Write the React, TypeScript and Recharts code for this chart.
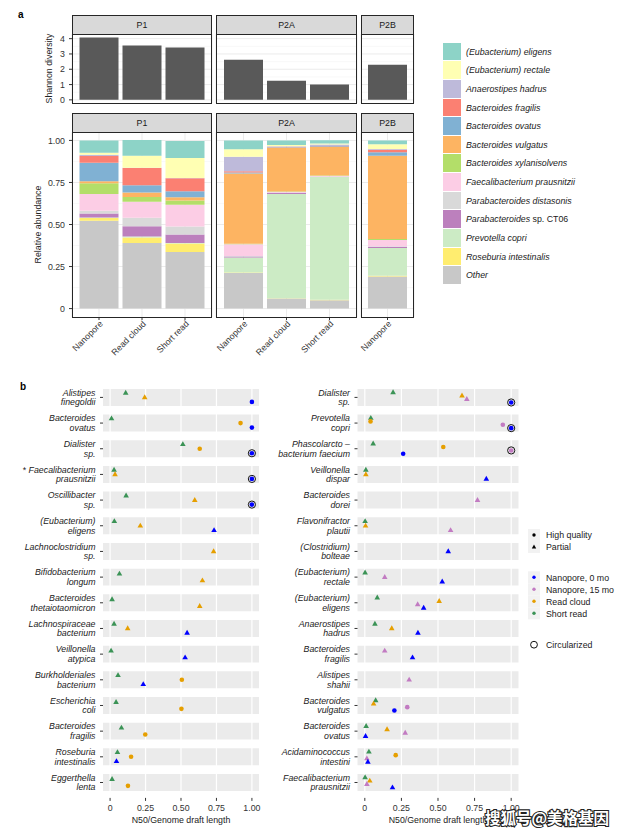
import React from "react";
import {
  Bar,
  BarChart,
  CartesianGrid,
  Label,
  ReferenceArea,
  ReferenceLine,
  Scatter,
  ScatterChart,
  XAxis,
  YAxis,
} from "recharts";

const FONT = '"Liberation Sans", Arial, Helvetica, sans-serif';
const TXT = "#333333";

// ---------- panel a ----------
const facets = ["P1", "P1", "P1", "P2A", "P2A", "P2A", "P2B"];
const methods = ["Nanopore", "Read cloud", "Short read", "Nanopore", "Read cloud", "Short read", "Nanopore"];
const shannon = [4.08, 3.55, 3.42, 2.63, 1.25, 1.0, 2.3];

const eligens = [0.073, 0.093, 0.1, 0.053, 0.028, 0.02, 0.022];
const rectale = [0.012, 0.071, 0.119, 0.044, 0.006, 0.006, 0.028];
const hadrus = [0.008, 0.002, 0.002, 0.086, 0.004, 0.008, 0.004];
const fragilis = [0.04, 0.102, 0.078, 0.008, 0.002, 0.002, 0.016];
const ovatus = [0.11, 0.044, 0.035, 0.006, 0.004, 0.004, 0.02];
const vulgatus = [0.012, 0.027, 0.02, 0.417, 0.26, 0.17, 0.495];
const xylanisolvens = [0.063, 0.028, 0.024, 0.003, 0.003, 0.003, 0.006];
const prausnitzii = [0.1, 0.095, 0.13, 0.071, 0.002, 0.002, 0.037];
const distasonis = [0.016, 0.051, 0.047, 0.002, 0.002, 0.002, 0.004];
const ct06 = [0.024, 0.061, 0.051, 0.006, 0.007, 0.002, 0.006];
const copri = [0.004, 0.006, 0.003, 0.09, 0.62, 0.73, 0.166];
const roseburia = [0.016, 0.032, 0.05, 0.003, 0.002, 0.002, 0.004];
const other = [0.522, 0.39, 0.337, 0.211, 0.06, 0.05, 0.191];

const taxaKeys = ["eligens", "rectale", "hadrus", "fragilis", "ovatus", "vulgatus", "xylanisolvens", "prausnitzii", "distasonis", "ct06", "copri", "roseburia", "other"];
const taxaValues = [eligens, rectale, hadrus, fragilis, ovatus, vulgatus, xylanisolvens, prausnitzii, distasonis, ct06, copri, roseburia, other];
const taxaLabels: [string, string][] = [
  ["(Eubacterium) eligens", ""],
  ["(Eubacterium) rectale", ""],
  ["Anaerostipes hadrus", ""],
  ["Bacteroides fragilis", ""],
  ["Bacteroides ovatus", ""],
  ["Bacteroides vulgatus", ""],
  ["Bacteroides xylanisolvens", ""],
  ["Faecalibacterium prausnitzii", ""],
  ["Parabacteroides distasonis", ""],
  ["Parabacteroides", " sp. CT06"],
  ["Prevotella copri", ""],
  ["Roseburia intestinalis", ""],
  ["Other", ""],
];
const taxaColors = ["#8DD3C7", "#FFFFB3", "#BEBADA", "#FB8072", "#80B1D3", "#FDB462", "#B3DE69", "#FCCDE5", "#D9D9D9", "#BC80BD", "#CCEBC5", "#FFED6F", "#C8C8C8"];

const facetNames = ["P1", "P2A", "P2B"];
const facetLeft = [72, 216, 361];
const facetWidth = [140, 141, 53];

function facetRows(f: string) {
  const rows: any[] = [];
  facets.forEach((name, i) => {
    if (name !== f) return;
    const row: any = { method: methods[i], shannon: shannon[i] };
    taxaKeys.forEach((k, j) => (row[k] = taxaValues[j][i]));
    rows.push(row);
  });
  return rows;
}

// ---------- panel b ----------
const leftSpecies: [string, string][] = [
  ["Alistipes", "finegoldii"],
  ["Bacteroides", "ovatus"],
  ["Dialister", "sp."],
  ["*Faecalibacterium", "prausnitzii"],
  ["Oscillibacter", "sp."],
  ["(Eubacterium)", "eligens"],
  ["Lachnoclostridium", "sp."],
  ["Bifidobacterium", "longum"],
  ["Bacteroides", "thetaiotaomicron"],
  ["Lachnospiraceae", "bacterium"],
  ["Veillonella", "atypica"],
  ["Burkholderiales", "bacterium"],
  ["Escherichia", "coli"],
  ["Bacteroides", "fragilis"],
  ["Roseburia", "intestinalis"],
  ["Eggerthella", "lenta"],
];
// [row, N50/genome length, quality]
type Pt = [number, number, string];
const leftShortRead: Pt[] = [[1, 0.11, "P"], [2, 0.01, "P"], [3, 0.513, "P"], [4, 0.028, "P"], [5, 0.113, "P"], [6, 0.03, "P"], [8, 0.066, "P"], [9, 0.014, "P"], [10, 0.028, "P"], [11, 0.007, "P"], [12, 0.056, "P"], [13, 0.042, "P"], [14, 0.08, "P"], [15, 0.052, "P"], [16, 0.014, "P"]];
const leftReadCloud: Pt[] = [[1, 0.244, "P"], [2, 0.92, "HQ"], [3, 0.632, "HQ"], [4, 0.035, "P"], [5, 0.597, "P"], [6, 0.213, "P"], [7, 0.73, "P"], [8, 0.651, "P"], [9, 0.632, "P"], [10, 0.124, "P"], [12, 0.506, "HQ"], [13, 0.503, "HQ"], [14, 0.248, "HQ"], [15, 0.148, "HQ"], [16, 0.126, "HQ"]];
const leftNano0: Pt[] = [[1, 1.0, "HQ"], [2, 1.0, "HQ"], [3, 1.0, "HQ"], [4, 1.0, "HQ"], [5, 1.0, "HQ"], [6, 0.733, "P"], [10, 0.543, "P"], [11, 0.529, "P"], [12, 0.234, "P"], [15, 0.045, "P"]];
const leftCircular: [number, string][] = [[3, "n0"], [4, "n0"], [5, "n0"]];

const rightSpecies: [string, string][] = [
  ["Dialister", "sp."],
  ["Prevotella", "copri"],
  ["Phascolarcto –", "bacterium faecium"],
  ["Veillonella", "dispar"],
  ["Bacteroides", "dorei"],
  ["Flavonifractor", "plautii"],
  ["(Clostridium)", "bolteae"],
  ["(Eubacterium)", "rectale"],
  ["(Eubacterium)", "eligens"],
  ["Anaerostipes", "hadrus"],
  ["Bacteroides", "fragilis"],
  ["Alistipes", "shahii"],
  ["Bacteroides", "vulgatus"],
  ["Bacteroides", "ovatus"],
  ["Acidaminococcus", "intestini"],
  ["Faecalibacterium", "prausnitzii"],
];
const rightShortRead: Pt[] = [[1, 0.193, "P"], [2, 0.041, "P"], [3, 0.057, "P"], [4, 0.007, "P"], [6, 0.002, "P"], [8, 0.002, "P"], [9, 0.085, "P"], [10, 0.069, "P"], [13, 0.074, "P"], [14, 0.009, "P"], [15, 0.028, "P"], [16, 0.002, "P"]];
const rightReadCloud: Pt[] = [[1, 0.664, "P"], [2, 0.039, "HQ"], [3, 0.536, "HQ"], [4, 0.007, "P"], [6, 0.005, "P"], [9, 0.508, "P"], [10, 0.184, "P"], [13, 0.06, "P"], [14, 0.152, "P"], [15, 0.211, "HQ"], [16, 0.034, "P"]];
const rightNano15: Pt[] = [[1, 0.697, "P"], [2, 0.943, "HQ"], [3, 1.0, "HQ"], [5, 0.77, "P"], [6, 0.586, "P"], [8, 0.136, "P"], [9, 0.361, "P"], [11, 0.136, "P"], [12, 0.303, "P"], [13, 0.29, "HQ"], [14, 0.276, "P"], [15, 0.014, "P"], [16, 0.014, "P"]];
const rightNano0: Pt[] = [[1, 1.0, "HQ"], [2, 1.0, "HQ"], [3, 0.262, "HQ"], [4, 0.83, "P"], [7, 0.57, "P"], [8, 0.529, "P"], [9, 0.402, "P"], [10, 0.363, "P"], [11, 0.326, "P"], [13, 0.202, "HQ"], [14, 0.005, "P"], [15, 0.021, "P"], [16, 0.189, "P"]];
const rightCircular: [number, string][] = [[1, "n0"], [2, "n0"], [3, "n15"]];

const techKeys = ["sr", "rc", "n15", "n0"];
const techLabels = ["Short read", "Read cloud", "Nanopore, 15 mo", "Nanopore, 0 mo"];
const techColors = ["#3B9356", "#E69F00", "#C27BC2", "#0000FF"];

const xTicks = [0, 0.25, 0.5, 0.75, 1];
const DODGE = 0.526; // dodge width in row units

function dodge(series: Record<string, Pt[]>, nRows: number) {
  const out: Record<string, any[]> = {};
  techKeys.forEach((k) => (out[k] = []));
  for (let r = 1; r <= nRows; r++) {
    const present = techKeys.filter((k) => series[k] && series[k].some((p) => p[0] === r));
    present.forEach((k, i) => {
      const p = series[k].find((q) => q[0] === r)!;
      out[k].push({ row: r, x: p[1], q: p[2], y: r + DODGE * ((i + 0.5) / present.length - 0.5) });
    });
  }
  return out;
}

// ---------- small renderers ----------
function AngledTick(props: any) {
  const { x, y, payload } = props;
  return (
    <text x={x} y={y} dy="0.71em" transform={`rotate(-45 ${x} ${y})`} textAnchor="end" fontSize={8.8} fill={TXT} fontFamily={FONT}>
      {payload.value}
    </text>
  );
}

function NameTick(props: any) {
  const { x, y, payload, names } = props;
  const [a, b] = names[payload.value - 1];
  const star = a.startsWith("*");
  return (
    <g>
      <text x={x} y={y - 1.8} textAnchor="end" fontSize={8.8} fontStyle="italic" fill="#222" fontFamily={FONT}>
        {star && <tspan fontStyle="normal">* </tspan>}
        {star ? a.slice(1) : a}
      </text>
      <text x={x} y={y + 7.8} textAnchor="end" fontSize={8.8} fontStyle="italic" fill="#222" fontFamily={FONT}>
        {b}
      </text>
    </g>
  );
}

function Marker(props: any) {
  const { cx, cy, payload, color } = props;
  if (cx == null || cy == null) return null;
  if (payload.q === "HQ") return <circle cx={cx} cy={cy} r={2.3} fill={color} />;
  return <path d={`M${cx},${cy - 3.1} L${cx + 2.8},${cy + 1.8} L${cx - 2.8},${cy + 1.8} Z`} fill={color} />;
}

function Ring(props: any) {
  const { cx, cy } = props;
  if (cx == null || cy == null) return null;
  return <circle cx={cx} cy={cy} r={3.6} fill="none" stroke="#111" strokeWidth={1} />;
}

const fmt2 = (v: number) => (v === 0 ? "0" : v.toFixed(2));

// ---------- panels ----------
function ShannonFacet({ idx }: { idx: number }) {
  const f = facetNames[idx];
  const first = idx === 0;
  const w = facetWidth[idx];
  const pad = (w - 43 * facetRows(f).length) / 2;
  return (
    <div style={{ position: "absolute", left: first ? 0 : facetLeft[idx], top: 34 }}>
      <BarChart width={first ? facetLeft[idx] + w : w} height={75} data={facetRows(f)} margin={{ top: 0, right: 0, bottom: 0, left: 0 }} barSize={39}>
        <CartesianGrid vertical={false} horizontalValues={[0.5, 1.5, 2.5, 3.5]} stroke="#F3F3F3" strokeWidth={0.6} />
        <CartesianGrid horizontalValues={[0, 1, 2, 3, 4]} stroke="#EBEBEB" />
        <XAxis dataKey="method" height={6} tick={false} tickSize={3} tickLine={{ stroke: TXT }} axisLine={false} padding={{ left: pad, right: pad }} />
        <YAxis
          type="number"
          domain={[-0.205, 4.305]}
          ticks={[0, 1, 2, 3, 4]}
          interval={0}
          allowDataOverflow
          hide={!first}
          width={facetLeft[0]}
          tickSize={3}
          tickMargin={4}
          axisLine={false}
          tickLine={{ stroke: TXT }}
          tick={{ fontSize: 8.8, fill: TXT }}
        >
          <Label value="Shannon diversity" angle={-90} position="insideLeft" offset={49} style={{ textAnchor: "middle", fontSize: 8.8, fill: "#222" }} />
        </YAxis>
        <Bar dataKey="shannon" fill="#595959" isAnimationActive={false} />
      </BarChart>
    </div>
  );
}

function StackFacet({ idx }: { idx: number }) {
  const f = facetNames[idx];
  const first = idx === 0;
  const w = facetWidth[idx];
  const rows = facetRows(f);
  const pad = (w - 43 * rows.length) / 2;
  return (
    <div style={{ position: "absolute", left: first ? 0 : facetLeft[idx], top: 132 }}>
      <BarChart width={first ? facetLeft[idx] + w : w} height={240} data={rows} margin={{ top: 0, right: 0, bottom: 0, left: 0 }} barSize={39}>
        <CartesianGrid vertical={false} horizontalValues={[0.125, 0.375, 0.625, 0.875]} stroke="#F3F3F3" strokeWidth={0.6} />
        <CartesianGrid horizontalValues={[0, 0.25, 0.5, 0.75, 1]} stroke="#EBEBEB" />
        <XAxis dataKey="method" height={55} interval={0} tick={<AngledTick />} tickSize={3} tickMargin={0} tickLine={{ stroke: TXT }} axisLine={false} padding={{ left: pad, right: pad }} />
        <YAxis
          type="number"
          domain={[-0.05, 1.05]}
          ticks={[0, 0.25, 0.5, 0.75, 1]}
          interval={0}
          tickFormatter={fmt2}
          allowDataOverflow
          hide={!first}
          width={facetLeft[0]}
          tickSize={3}
          tickMargin={4}
          axisLine={false}
          tickLine={{ stroke: TXT }}
          tick={{ fontSize: 8.8, fill: TXT }}
        >
          <Label value="Relative abundance" angle={-90} position="insideLeft" offset={38} style={{ textAnchor: "middle", fontSize: 8.8, fill: "#222" }} />
        </YAxis>
        {[...taxaKeys].reverse().map((k) => (
          <Bar key={k} dataKey={k} stackId="a" fill={taxaColors[taxaKeys.indexOf(k)]} isAnimationActive={false} />
        ))}
      </BarChart>
    </div>
  );
}

function Strip({ idx, top }: { idx: number; top: number }) {
  return (
    <div
      style={{
        position: "absolute",
        left: facetLeft[idx],
        top,
        width: facetWidth[idx],
        height: 20,
        boxSizing: "border-box",
        border: "1px solid #262626",
        background: "#D9D9D9",
        fontSize: 8.8,
        lineHeight: "18px",
        textAlign: "center",
        color: "#1a1a1a",
      }}
    >
      {facetNames[idx]}
    </div>
  );
}

function Frame({ idx, top, height }: { idx: number; top: number; height: number }) {
  return (
    <div
      style={{
        position: "absolute",
        left: facetLeft[idx],
        top,
        width: facetWidth[idx],
        height,
        boxSizing: "border-box",
        border: "1px solid #262626",
        pointerEvents: "none",
      }}
    />
  );
}

function LengthPanel({ left, yWidth, width, names, series, circular }: any) {
  const pts = dodge(series, names.length);
  const rowsIdx = names.map((_: any, i: number) => i + 1);
  const ringPts = circular.map(([r, k]: [number, string]) => pts[k].find((p: any) => p.row === r));
  return (
    <div style={{ position: "absolute", left, top: 381.6 }}>
      <ScatterChart width={width} height={445.9} margin={{ top: 0, right: 0, bottom: 0, left: 0 }}>
        <XAxis
          type="number"
          dataKey="x"
          domain={[-0.05, 1.05]}
          ticks={xTicks}
          interval={0}
          tickFormatter={fmt2}
          allowDataOverflow
          height={30}
          tickSize={3}
          tickMargin={3.5}
          axisLine={false}
          tickLine={{ stroke: TXT }}
          tick={{ fontSize: 8.8, fill: TXT }}
        >
          <Label value="N50/Genome draft length" position="insideBottom" offset={4.5} style={{ fontSize: 8.8, fill: "#222" }} />
        </XAxis>
        <YAxis
          type="number"
          dataKey="y"
          domain={[0.4, names.length + 0.6]}
          ticks={rowsIdx}
          interval={0}
          reversed
          allowDataOverflow
          width={yWidth}
          tickSize={3}
          tickMargin={4.5}
          axisLine={false}
          tickLine={{ stroke: TXT }}
          tick={(p: any) => <NameTick {...p} names={names} />}
        />
        {rowsIdx.map((r: number) => (
          <ReferenceArea key={"ra" + r} x1={-0.05} x2={1.05} y1={r - 0.33} y2={r + 0.33} fill="#EBEBEB" fillOpacity={1} stroke="none" />
        ))}
        {xTicks.map((t) => (
          <ReferenceLine key={"rl" + t} x={t} stroke="#FFFFFF" strokeWidth={1.2} />
        ))}
        {techKeys.map((k, i) =>
          pts[k].length ? (
            <Scatter key={k} name={techLabels[i]} data={pts[k]} fill={techColors[i]} isAnimationActive={false} shape={(p: any) => <Marker {...p} color={techColors[i]} />} />
          ) : null
        )}
        <Scatter name="Circularized" data={ringPts} fill="none" isAnimationActive={false} shape={(p: any) => <Ring {...p} />} />
      </ScatterChart>
    </div>
  );
}

function TaxaLegend() {
  return (
    <div style={{ position: "absolute", left: 443, top: 42.7 }}>
      {taxaLabels.map(([it, rom], i) => (
        <div key={it + rom} style={{ position: "relative", height: 18.64 }}>
          <div style={{ position: "absolute", left: 0, top: 0, width: 18, height: 18.64, boxSizing: "border-box", borderBottom: "0.5px solid #fff", background: taxaColors[i] }} />
          <div style={{ position: "absolute", left: 23, top: 0, lineHeight: "18.64px", fontSize: 8.8, color: "#1a1a1a", whiteSpace: "nowrap" }}>
            <span style={{ fontStyle: "italic" }}>{it}</span>
            {rom}
          </div>
        </div>
      ))}
    </div>
  );
}

function TechLegend() {
  const rowsY = [577.3, 589.3, 601.3, 613.3];
  const legendOrder = [3, 2, 1, 0];
  return (
    <svg style={{ position: "absolute", left: 0, top: 0 }} width={622} height={835}>
      <g fontFamily={FONT} fontSize={8.8} fill="#1a1a1a">
        {[535, 547, ...rowsY].map((y) => (
          <rect key={"bg" + y} x={528} y={y - 6} width={12} height={12} fill="#F2F2F2" />
        ))}
        <circle cx={534} cy={535} r={1.7} fill="#000" />
        <text x={546} y={538.2}>High quality</text>
        <path d="M534,544.6 L536.2,548.6 L531.8,548.6 Z" fill="#000" />
        <text x={546} y={550}>Partial</text>
        {legendOrder.map((ti, j) => (
          <g key={techKeys[ti]}>
            <circle cx={534} cy={rowsY[j]} r={1.7} fill={techColors[ti]} />
            <text x={546} y={rowsY[j] + 3.2}>{techLabels[ti]}</text>
          </g>
        ))}
        <circle cx={534} cy={644.7} r={3.4} fill="none" stroke="#111" strokeWidth={1} />
        <text x={546} y={647.9}>Circularized</text>
      </g>
    </svg>
  );
}

export default function App() {
  return (
    <div style={{ position: "absolute", left: 0, top: 0, width: 622, height: 835, background: "#fff", fontFamily: FONT, overflow: "hidden" }}>
      <style>{"svg.recharts-surface { overflow: visible; }"}</style>
      {facetNames.map((_, i) => (
        <ShannonFacet key={"sh" + i} idx={i} />
      ))}
      {facetNames.map((_, i) => (
        <StackFacet key={"st" + i} idx={i} />
      ))}
      {facetNames.map((_, i) => (
        <React.Fragment key={"fr" + i}>
          <Strip idx={i} top={15} />
          <Frame idx={i} top={34} height={70} />
          <Strip idx={i} top={113} />
          <Frame idx={i} top={132} height={186} />
        </React.Fragment>
      ))}
      <TaxaLegend />

      <LengthPanel
        left={0}
        yWidth={103}
        width={259}
        names={leftSpecies}
        series={{ sr: leftShortRead, rc: leftReadCloud, n0: leftNano0 }}
        circular={leftCircular}
      />
      <LengthPanel
        left={260}
        yWidth={97.5}
        width={258.5}
        names={rightSpecies}
        series={{ sr: rightShortRead, rc: rightReadCloud, n15: rightNano15, n0: rightNano0 }}
        circular={rightCircular}
      />
      <TechLegend />

      <div style={{ position: "absolute", left: 18, top: 9, fontSize: 10, fontWeight: "bold" }}>a</div>
      <div style={{ position: "absolute", left: 20, top: 381, fontSize: 10, fontWeight: "bold" }}>b</div>

      <svg style={{ position: "absolute", left: 480, top: 800 }} width={142} height={35}>
        <text x={5} y={24} fontSize={15.5} fontWeight="bold" fill="#fff" stroke="#222" strokeWidth={2.2} paintOrder="stroke" fontFamily='"Noto Sans CJK SC", sans-serif'>
          搜狐号@美格基因
        </text>
      </svg>
    </div>
  );
}
